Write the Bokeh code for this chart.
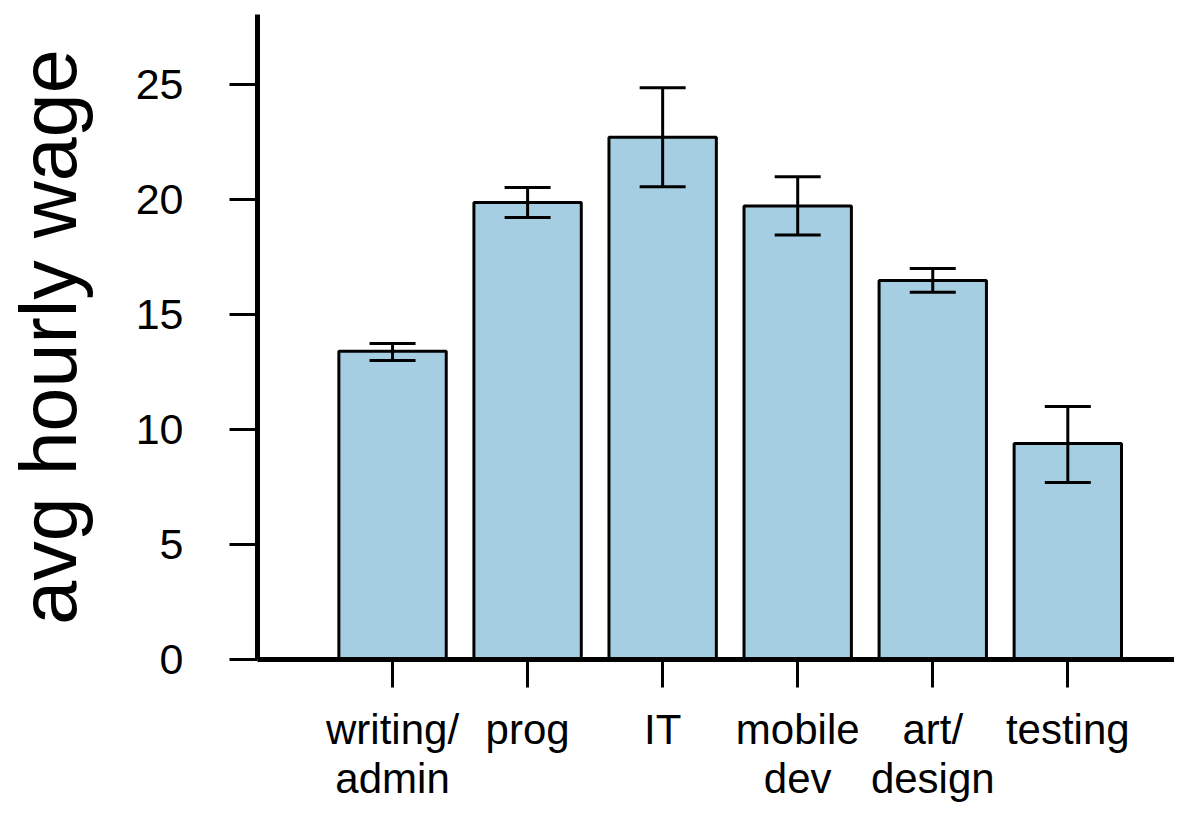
from bokeh.plotting import figure
from bokeh.models import FixedTicker, Range1d, Whisker, TeeHead, ColumnDataSource
from bokeh.embed import file_html
from bokeh.resources import INLINE

categories = ["writing/\nadmin", "prog", "IT", "mobile\ndev", "art/\ndesign", "testing"]
positions = [1, 2, 3, 4, 5, 6]
wage = [13.40, 19.87, 22.70, 19.72, 16.48, 9.39]
err_lower = [13.00, 19.22, 20.55, 18.45, 15.96, 7.70]
err_upper = [13.74, 20.52, 24.86, 20.99, 17.00, 11.00]
y_ticks = [0, 5, 10, 15, 20, 25]

FONT = "Liberation Sans"

src = ColumnDataSource(dict(x=positions, top=wage, lower=err_lower, upper=err_upper))

p = figure(width=1174, height=805, output_backend="svg", toolbar_location=None,
           x_range=Range1d(0, 6.79), y_range=Range1d(0, 28.04),
           min_border_left=250, min_border_right=0, min_border_top=14, min_border_bottom=146)
p.outline_line_color = None
p.xgrid.visible = False
p.ygrid.visible = False

p.vbar(x="x", top="top", width=0.795, bottom=0, source=src,
       fill_color="#a6cee3", line_color="black", line_width=3)

w = Whisker(base="x", lower="lower", upper="upper", source=src, level="overlay",
            line_color="black", line_width=3,
            upper_head=TeeHead(size=46, line_color="black", line_width=3),
            lower_head=TeeHead(size=46, line_color="black", line_width=3))
p.add_layout(w)

# x axis
xa = p.xaxis[0]
xa.ticker = FixedTicker(ticks=positions)
xa.major_label_overrides = {pos: lab for pos, lab in zip(positions, categories)}
xa.axis_line_width = 5
xa.axis_line_color = "black"
xa.major_tick_out = 28
xa.major_tick_in = 0
xa.major_tick_line_width = 3
xa.minor_tick_line_color = None
xa.major_label_text_font = FONT
xa.major_label_text_font_size = "42px"
xa.major_label_text_line_height = 1.05
xa.major_label_standoff = 18
xa.major_label_text_color = "black"

# y axis
ya = p.yaxis[0]
ya.ticker = FixedTicker(ticks=y_ticks)
ya.axis_line_width = 5
ya.axis_line_color = "black"
ya.major_tick_out = 28
ya.major_tick_in = 0
ya.major_tick_line_width = 3
ya.minor_tick_line_color = None
ya.major_label_text_font = FONT
ya.major_label_text_font_size = "43px"
ya.major_label_standoff = 46
ya.major_label_text_color = "black"
ya.axis_label = "avg hourly wage"
ya.axis_label_text_font = FONT
ya.axis_label_text_font_size = "79px"
ya.axis_label_text_font_style = "normal"
ya.axis_label_text_color = "black"
ya.axis_label_standoff = 40

open("out.html", "w").write(file_html(p, INLINE))
